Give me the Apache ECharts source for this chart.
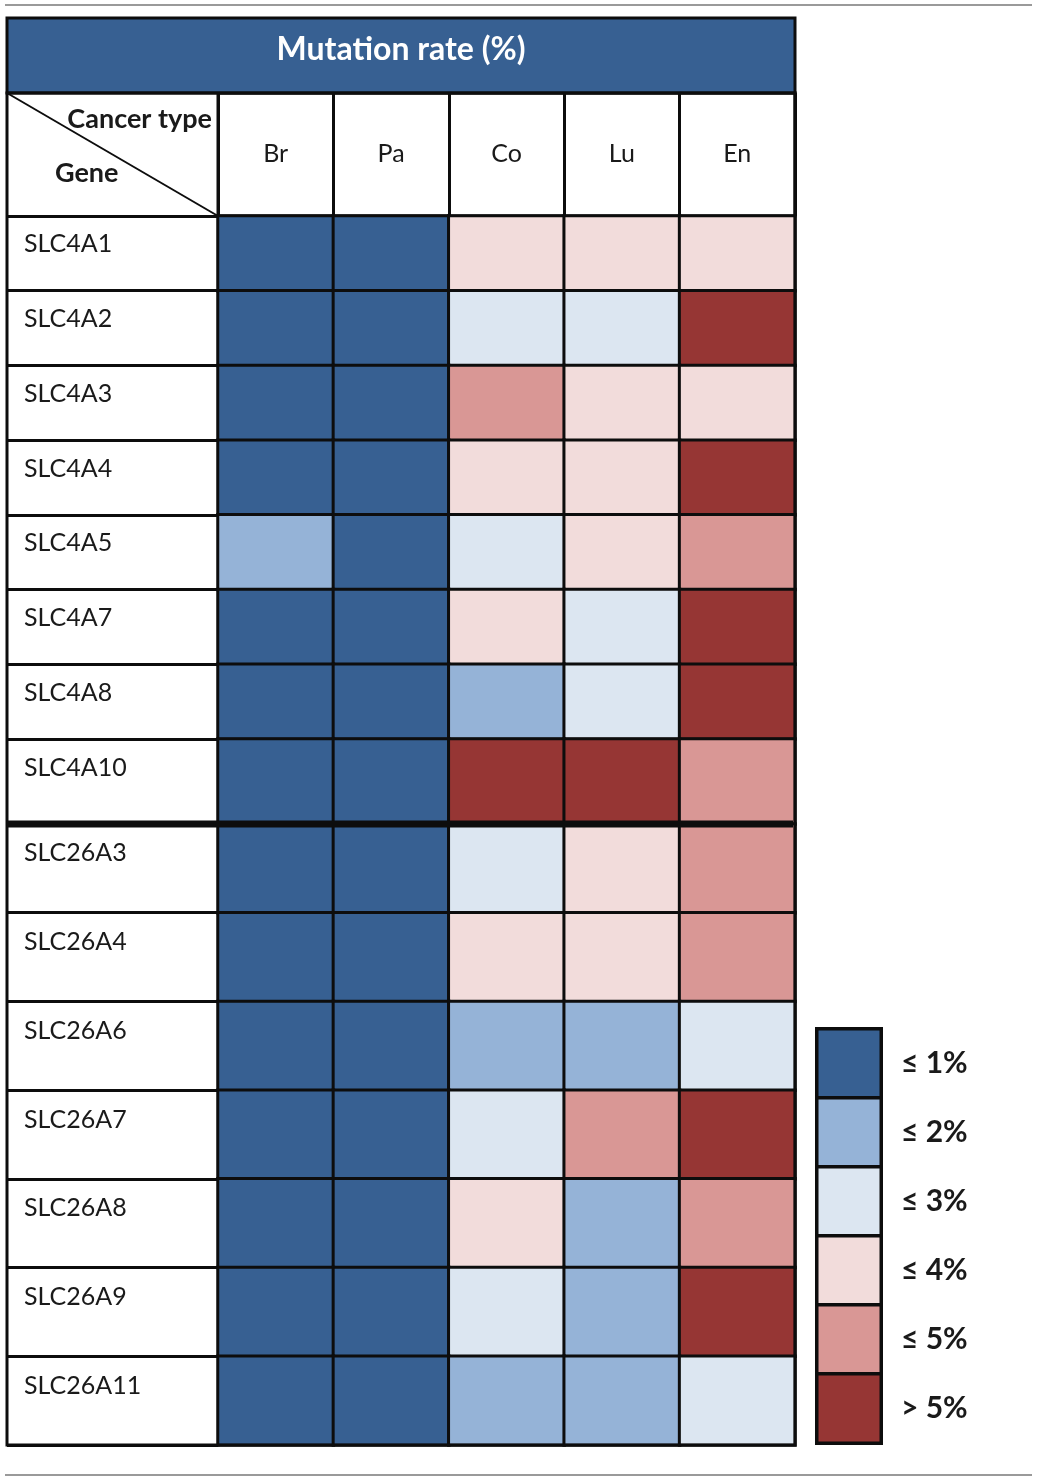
<!DOCTYPE html>
<html>
<head>
<meta charset="utf-8">
<script src="https://cdn.jsdelivr.net/npm/echarts@6/dist/echarts.min.js"></script>
<style>
html,body{margin:0;padding:0;background:#fff;}
#chart{width:1039px;height:1481px;}
</style>
</head>
<body>
<div id="chart"></div>
<script>
// ---- data ----
const cancerTypes = ['Br', 'Pa', 'Co', 'Lu', 'En'];
const genesSLC4 = ['SLC4A1', 'SLC4A2', 'SLC4A3', 'SLC4A4', 'SLC4A5', 'SLC4A7', 'SLC4A8', 'SLC4A10'];
const genesSLC26 = ['SLC26A3', 'SLC26A4', 'SLC26A6', 'SLC26A7', 'SLC26A8', 'SLC26A9', 'SLC26A11'];
// mutation-rate class per cell: 0 = ≤1%, 1 = ≤2%, 2 = ≤3%, 3 = ≤4%, 4 = ≤5%, 5 = >5%
const levelsSLC4 = [
  [0, 0, 3, 3, 3],
  [0, 0, 2, 2, 5],
  [0, 0, 4, 3, 3],
  [0, 0, 3, 3, 5],
  [1, 0, 2, 3, 4],
  [0, 0, 3, 2, 5],
  [0, 0, 1, 2, 5],
  [0, 0, 5, 5, 4]
];
const levelsSLC26 = [
  [0, 0, 2, 3, 4],
  [0, 0, 3, 3, 4],
  [0, 0, 1, 1, 2],
  [0, 0, 2, 4, 5],
  [0, 0, 3, 1, 4],
  [0, 0, 2, 1, 5],
  [0, 0, 1, 1, 2]
];
const legendLabels = ['≤ 1%', '≤ 2%', '≤ 3%', '≤ 4%', '≤ 5%', '> 5%'];
const legendLevels = [0, 1, 2, 3, 4, 5];
const titleText = 'Mutation rate (%)';
const cornerTop = 'Cancer type';
const cornerBottom = 'Gene';

// ---- styles ----
const classColors = ['#376092', '#95B3D7', '#DCE6F1', '#F2DCDB', '#D99795', '#963634'];
const FONT = 'Lato, "Open Sans", sans-serif';
const INK = '#1a1a1a';
const LINE = '#0d0d0d';

function toCells(levels) {
  const out = [];
  levels.forEach((row, r) => row.forEach((v, c) => out.push([c, r, v])));
  return out;
}

const chart = echarts.init(document.getElementById('chart'), null, {renderer: 'canvas'});

// label raised above the row centre by `lift` px (rich-text spacer line below it)
const bodyY = (cats, lift, idx) => ({
  type: 'category', gridIndex: idx, data: cats, inverse: true,
  axisLine: {show: true, lineStyle: {color: LINE, width: 3}},
  axisTick: {show: true, length: 211, interval: 0, lineStyle: {color: LINE, width: 3}},
  axisLabel: {
    interval: 0, align: 'left', margin: 194, verticalAlign: 'middle',
    formatter: (v) => '{g|' + v + '}\n{s|}',
    rich: {
      g: {fontFamily: FONT, fontSize: 25, color: INK, lineHeight: 30, align: 'left'},
      s: {height: lift * 2, lineHeight: lift * 2, fontSize: 1}
    }
  },
  splitLine: {show: false}
});
const hiddenX = (idx) => ({type: 'category', gridIndex: idx, data: cancerTypes, show: false});

const heat = (x, y, data) => ({
  type: 'heatmap', xAxisIndex: x, yAxisIndex: y, data: data,
  itemStyle: {borderColor: LINE, borderWidth: 3},
  emphasis: {disabled: true}, silent: true
});

const option = {
  backgroundColor: '#fff',
  animation: false,
  grid: [
    {left: 218, top: 93, width: 577, height: 123, show: true, borderColor: LINE, borderWidth: 3, backgroundColor: 'transparent'},
    {left: 218, top: 216, width: 577, height: 523},
    {left: 218, top: 739, width: 577, height: 85},
    {left: 218, top: 824, width: 577, height: 621},
    {left: 817, top: 1029, width: 64, height: 414}
  ],
  xAxis: [
    {
      type: 'category', gridIndex: 0, data: cancerTypes, position: 'bottom',
      axisLine: {show: false}, axisTick: {show: false},
      splitLine: {show: true, interval: 0, lineStyle: {color: LINE, width: 3}},
      axisLabel: {inside: true, margin: 62, verticalAlign: 'middle', interval: 0,
        fontFamily: FONT, fontSize: 25, color: INK}
    },
    hiddenX(1), hiddenX(2), hiddenX(3),
    {type: 'category', gridIndex: 4, data: ['legend'], show: false}
  ],
  yAxis: [
    {type: 'value', gridIndex: 0, show: false},
    bodyY(genesSLC4.slice(0, 7), 9, 1),
    bodyY(genesSLC4.slice(7), 14, 2),
    bodyY(genesSLC26, 15, 3),
    {
      type: 'category', gridIndex: 4, data: legendLabels, inverse: true, position: 'right',
      axisLine: {show: false}, axisTick: {show: false},
      axisLabel: {interval: 0, margin: 20, fontFamily: FONT, fontSize: 30, fontWeight: 'bold', color: INK}
    }
  ],
  visualMap: {
    type: 'piecewise', show: false, dimension: 2, seriesIndex: [0, 1, 2, 3],
    pieces: legendLevels.map((v, i) => ({value: v, color: classColors[i]}))
  },
  series: [
    heat(1, 1, toCells(levelsSLC4.slice(0, 7))),
    heat(2, 2, toCells(levelsSLC4.slice(7))),
    heat(3, 3, toCells(levelsSLC26)),
    Object.assign(heat(4, 4, legendLevels.map((v, i) => [0, i, v])), {itemStyle: {borderColor: LINE, borderWidth: 3.5}})
  ],
  graphic: [
    {type: 'line', shape: {x1: 5, y1: 5, x2: 1032, y2: 5}, style: {stroke: '#9a9a9a', lineWidth: 2}, silent: true},
    {type: 'line', shape: {x1: 5, y1: 1475, x2: 1032, y2: 1475}, style: {stroke: '#9a9a9a', lineWidth: 2}, silent: true},
    {type: 'rect', shape: {x: 7, y: 18, width: 788, height: 75}, style: {fill: '#376092', stroke: LINE, lineWidth: 3}, z: 10, silent: true},
    {type: 'text', x: 401, y: 50, style: {text: titleText, fill: '#fff', font: 'bold 32px ' + FONT, align: 'center', verticalAlign: 'middle'}, z: 11, silent: true},
    {type: 'line', shape: {x1: 7, y1: 93, x2: 218, y2: 216}, style: {stroke: LINE, lineWidth: 2}, z: 10, silent: true},
    {type: 'text', x: 212, y: 119, style: {text: cornerTop, fill: INK, font: 'bold 27px ' + FONT, align: 'right', verticalAlign: 'middle'}, z: 11, silent: true},
    {type: 'text', x: 55, y: 173, style: {text: cornerBottom, fill: INK, font: 'bold 27px ' + FONT, align: 'left', verticalAlign: 'middle'}, z: 11, silent: true},
    {type: 'rect', shape: {x: 7, y: 93, width: 788, height: 1352}, style: {fill: null, stroke: LINE, lineWidth: 3}, z: 10, silent: true},
    {type: 'line', shape: {x1: 7, y1: 824, x2: 793, y2: 824}, style: {stroke: LINE, lineWidth: 7}, z: 10, silent: true}
  ]
};
chart.setOption(option);
</script>
</body>
</html>
